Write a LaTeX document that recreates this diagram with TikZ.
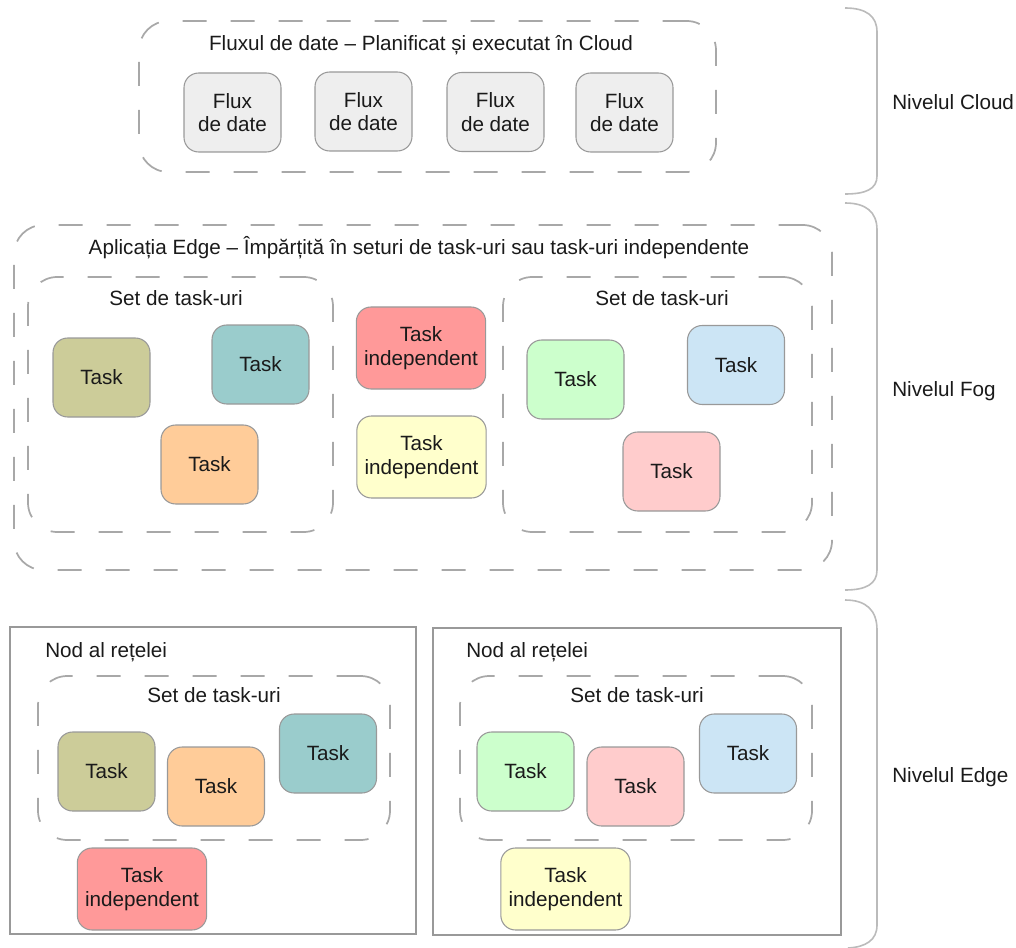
\documentclass[tikz,border=0pt]{standalone}
\usepackage{fontspec}
\setmainfont{Liberation Sans}
\definecolor{txt}{HTML}{1A1A1A}
\definecolor{dashc}{HTML}{A8A8A8}
\definecolor{boxline}{HTML}{999999}
\definecolor{brc}{HTML}{BBBBBB}
\definecolor{cgray}{HTML}{EEEEEE}
\definecolor{colive}{HTML}{CCCC99}
\definecolor{cteal}{HTML}{9ACCCC}
\definecolor{corange}{HTML}{FFCC99}
\definecolor{cred}{HTML}{FF9999}
\definecolor{cyellow}{HTML}{FFFFCC}
\definecolor{cgreen}{HTML}{CCFFCC}
\definecolor{cblue}{HTML}{CCE5F5}
\definecolor{cpink}{HTML}{FFCCCC}
\tikzset{
  every node/.style={font=\fontsize{15.5pt}{17.6pt}\selectfont, text=txt},
  dbox/.style={draw=dashc, line width=1.3pt, dash pattern=on 18pt off 18pt, rounded corners=22pt, inner sep=0pt},
  nodebox/.style={draw=boxline, line width=1pt, inner sep=0pt},
  taskbox/.style={draw=boxline, line width=0.8pt, rounded corners=11pt, minimum width=72.75pt, minimum height=59.25pt, inner sep=0pt, align=center},
  indbox/.style={taskbox, minimum width=97pt, minimum height=61.5pt},
  lbl/.style={inner sep=0pt},
  bracket/.style={draw=brc, line width=1.2pt},
}
\begin{document}
\begin{tikzpicture}[x=0.75pt,y=-0.75pt]
\useasboundingbox (0,0) rectangle (1016,948);
% ---- Cloud level ----
\node[dbox, minimum width=432.75pt, minimum height=113.25pt] (cloudbox) at (427.5,96.5) {};
\node[lbl] (cloudtitle) at (421,45) {Fluxul de date – Planificat și executat în Cloud};
\node[taskbox, fill=cgray] (f1) at (232.5,112.5) {Flux\\de date};
\node[taskbox, fill=cgray] (f2) at (363.5,111.5) {Flux\\de date};
\node[taskbox, fill=cgray] (f3) at (495.5,112) {Flux\\de date};
\node[taskbox, fill=cgray] (f4) at (624.5,112.5) {Flux\\de date};
% ---- Fog level ----
\node[dbox, minimum width=613.5pt, minimum height=258.75pt] (fogbox) at (423,397.5) {};
\node[lbl] (fogtitle) at (419,248) {Aplicația Edge – Împărțită în seturi de task-uri sau task-uri independente};
\node[dbox, minimum width=228.75pt, minimum height=191.25pt] (fogsetL) at (180.5,404.5) {};
\node[dbox, minimum width=231.75pt, minimum height=191.25pt] (fogsetR) at (657.5,404.5) {};
\node[lbl] (fogsetLt) at (176,298) {Set de task-uri};
\node[lbl] (fogsetRt) at (662,298) {Set de task-uri};
\node[taskbox, fill=colive] (fl1) at (101.5,377.5) {Task};
\node[taskbox, fill=cteal] (fl2) at (260.5,364.5) {Task};
\node[taskbox, fill=corange] (fl3) at (209.5,464.5) {Task};
\node[indbox, fill=cred] (fi1) at (421,348) {Task\\independent};
\node[indbox, fill=cyellow] (fi2) at (421.5,457) {Task\\independent};
\node[taskbox, fill=cgreen] (fr1) at (575.5,379.5) {Task};
\node[taskbox, fill=cblue] (fr2) at (736,365) {Task};
\node[taskbox, fill=cpink] (fr3) at (671.5,471.5) {Task};
% ---- Edge level ----
\node[nodebox, minimum width=304.5pt, minimum height=230.25pt] (enodeL) at (213,780.5) {};
\node[nodebox, minimum width=306pt, minimum height=230.25pt] (enodeR) at (637,781.5) {};
\node[lbl, anchor=west] (enodeLt) at (45,652) {Nod al rețelei};
\node[lbl, anchor=west] (enodeRt) at (466,652) {Nod al rețelei};
\node[dbox, minimum width=264pt, minimum height=123pt] (esetL) at (214,758) {};
\node[dbox, minimum width=264pt, minimum height=123pt] (esetR) at (636,758) {};
\node[lbl] (esetLt) at (214,695) {Set de task-uri};
\node[lbl] (esetRt) at (637,695) {Set de task-uri};
\node[taskbox, fill=colive] (el1) at (106.5,771.5) {Task};
\node[taskbox, fill=corange] (el2) at (216,786.5) {Task};
\node[taskbox, fill=cteal] (el3) at (328,753.5) {Task};
\node[indbox, fill=cred] (ei1) at (142,889) {Task\\independent};
\node[taskbox, fill=cgreen] (er1) at (525.5,771.5) {Task};
\node[taskbox, fill=cpink] (er2) at (635.5,786.5) {Task};
\node[taskbox, fill=cblue] (er3) at (748,753.5) {Task};
\node[indbox, fill=cyellow] (ei2) at (565.5,889) {Task\\independent};
% ---- Brackets ----
\draw[bracket] (845,8) .. controls (866,8) and (877,16) .. (877,32) -- (877,176) .. controls (877,189) and (866,194) .. (845,194);
\draw[bracket] (845,203) .. controls (866,203) and (877,212) .. (877,230) -- (877,570) .. controls (877,584) and (866,590) .. (845,590);
\draw[bracket] (845,600) .. controls (866,600) and (877,610) .. (877,630) -- (877,925) .. controls (877,940) and (866,947) .. (848,948);
\node[lbl, anchor=west] (lvcloud) at (892,102) {Nivelul Cloud};
\node[lbl, anchor=west] (lvfog) at (892,391) {Nivelul Fog};
\node[lbl, anchor=west] (lvedge) at (892,777) {Nivelul Edge};
\end{tikzpicture}
\end{document}
